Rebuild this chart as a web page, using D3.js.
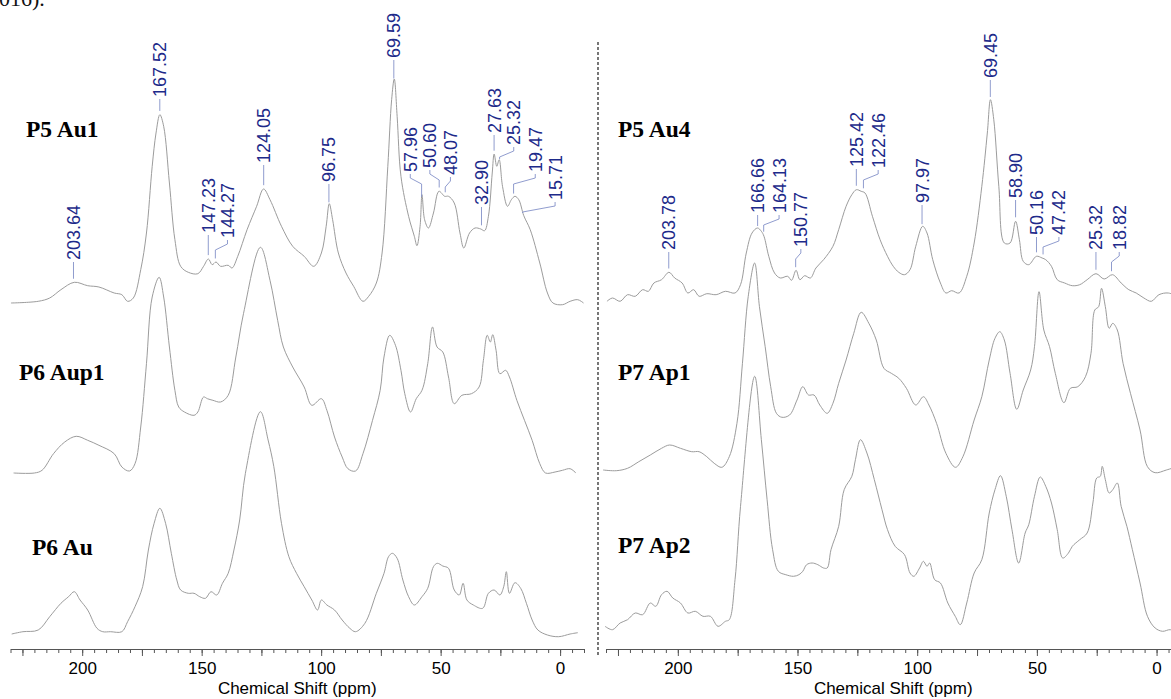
<!DOCTYPE html>
<html><head><meta charset="utf-8">
<script src="https://cdn.jsdelivr.net/npm/d3@7"></script>
<style>body{margin:0;background:#fff;} svg{display:block;}</style>
</head><body>
<svg id="chart" width="1171" height="699"></svg>
<script>
// ---------------- DATA ----------------
const axisLabelValues = [200, 150, 100, 50, 0];
const axisTitle = "Chemical Shift (ppm)";
const sampleNames = ["P5 Au1", "P6 Aup1", "P6 Au", "P5 Au4", "P7 Ap1", "P7 Ap2"];

const peaksP5Au1 = [203.64, 167.52, 147.23, 144.27, 124.05, 96.75, 69.59, 57.96, 50.60, 48.07, 32.90, 27.63, 25.32, 19.47, 15.71];
const peaksP5Au4 = [203.78, 166.66, 164.13, 150.77, 125.42, 122.46, 97.97, 69.45, 58.90, 50.16, 47.42, 25.32, 18.82];

// [ppm, intensity (a.u.)]
const spectrumP5Au1 = [[229.8,0],[218.4,1.7],[213.6,5],[208.9,13.3],[203.3,20.7],[197.7,17.3],[193.0,16],[186.6,10],[183.4,8.3],[181.0,1.7],[178.6,5],[175.5,33.3],[173.1,70],[170.7,136.7],[169.1,170],[167.5,188.3],[165.9,176.7],[163.5,120],[161.2,63.3],[158.8,36.7],[155.6,30.7],[151.6,29.3],[149.2,36.7],[147.2,44],[145.6,38.3],[144.0,41],[142.1,36.7],[138.9,37.7],[137.3,35],[134.9,46.7],[131.0,73.3],[127.0,96.7],[124.1,114],[121.4,103.3],[116.6,76.7],[111.9,56.7],[107.1,46.7],[103.1,36.7],[99.9,50],[97.9,76.7],[96.6,99.3],[95.2,83.3],[92.8,50],[89.6,30],[86.4,16.7],[82.5,1.7],[80.1,6.7],[76.9,20],[74.5,50],[72.1,136.7],[70.5,203.3],[69.4,224],[68.2,186.7],[66.6,126.7],[63.4,86.7],[61.0,66.7],[59.9,57.3],[58.6,76.7],[57.8,108.3],[56.7,83.3],[55.1,75],[53.0,90],[50.7,111.7],[48.3,106.7],[46.7,106.7],[44.3,100],[41.9,70],[40.3,55],[37.9,70],[35.6,75],[33.2,74],[31.6,72.3],[30.0,86.7],[28.4,130],[27.6,149],[26.5,136.7],[25.5,143.3],[24.1,116.7],[22.0,96.7],[20.4,103.3],[18.9,106.7],[17.3,103.3],[15.2,87.3],[12.5,73.3],[8.5,40],[5.3,10],[3.0,0],[-1.0,-1.7],[-4.2,1.7],[-7.4,3.3],[-9.8,0]];

const spectrumP6Aup1 = [[228.7,0],[220.0,0],[216.8,2.7],[212.0,19.3],[207.3,31],[202.5,36.7],[197.7,32.7],[193.0,27.7],[186.6,19.3],[183.4,6],[180.2,2],[177.9,9.3],[175.5,46],[173.1,109.3],[170.7,176],[167.8,195.7],[165.9,176],[163.5,126],[161.2,82.7],[159.6,66],[157.2,61],[153.2,57.7],[151.6,61],[149.2,76],[147.6,74.3],[145.3,72.7],[142.1,71],[138.9,77.7],[135.7,116],[132.5,159.3],[125.4,225.7],[121.4,192.7],[118.2,152.7],[115.8,126],[111.9,106],[107.1,86],[103.9,67.7],[99.9,74.3],[97.6,62.7],[94.4,36],[91.2,16],[88.8,4.3],[85.6,2],[82.5,19.3],[78.5,52.7],[75.3,82.7],[73.7,116],[71.3,137.7],[68.9,127.7],[66.6,102.7],[65.0,79.3],[62.6,61],[60.2,74.3],[57.8,82.7],[55.4,109.3],[53.4,146],[51.5,126],[49.1,121],[46.7,96],[44.3,69.3],[41.1,77.7],[37.1,79.3],[33.9,86],[32.1,112.7],[30.5,137.7],[29.2,131],[28.2,138.3],[26.8,122.7],[25.2,99.3],[22.8,102.7],[21.2,96],[18.1,72.7],[14.9,52.7],[11.7,32.7],[8.5,9.3],[6.1,0],[2.1,1],[-1.0,2.7],[-4.2,4.3],[-6.6,0]];

const spectrumP6Au = [[229.5,0],[224.8,2.3],[218.4,4],[213.6,17.3],[208.9,30.7],[205.7,37.3],[203.3,42.3],[200.9,34],[197.7,24],[193.8,5.7],[191.4,2.3],[188.2,2.3],[183.4,2.3],[181.0,12.3],[177.9,27.3],[174.7,47.3],[172.3,84],[169.9,110.7],[167.5,125.7],[165.1,110.7],[162.7,80.7],[160.4,54],[158.8,44],[155.6,40.7],[153.2,40.7],[150.8,37.3],[148.4,35.7],[146.1,42.3],[143.7,39],[141.3,50.7],[138.9,60.7],[136.5,84],[134.1,114],[131.7,160.7],[125.4,222.3],[122.2,194],[119.8,167.3],[116.6,110.7],[113.5,77.3],[110.3,60.7],[107.1,47.3],[103.9,34],[101.5,24],[99.9,34],[97.6,29],[94.4,24],[91.2,14],[88.0,5.7],[85.6,2.3],[81.7,10.7],[76.9,40.7],[73.7,60.7],[71.8,77.3],[70.2,80.7],[68.2,75.7],[65.8,54],[63.4,37.3],[61.0,29],[57.8,37.3],[55.4,45.7],[53.0,67.3],[51.4,70.7],[49.1,68],[46.7,65.7],[44.3,44],[42.2,39],[40.6,50.7],[39.0,34],[36.3,29],[32.4,25.7],[30.0,40.7],[27.6,44],[25.2,39],[23.6,47.3],[22.5,62.3],[21.2,40.7],[18.9,51.3],[16.5,45.7],[14.1,30.7],[11.7,14],[9.3,4],[5.3,-1],[0.6,-2.7],[-4.2,0],[-7.4,1.3]];

const spectrumP5Au4 = [[229.6,-4.3],[227.3,-1],[224.1,-4.3],[221.0,2.3],[217.8,0.7],[214.7,7.3],[212.3,5.7],[210.0,14],[206.8,17.3],[203.7,24.7],[201.3,19],[198.2,14],[195.8,4],[193.4,7.3],[191.1,0.7],[187.9,3.3],[184.0,2.3],[180.1,5.7],[176.1,4],[173.8,12.3],[171.4,44],[169.0,64],[166.7,69],[165.1,65.7],[164.0,60.7],[162.0,40.7],[159.6,24],[157.2,19],[154.1,20.7],[152.5,16.7],[150.6,26.7],[149.0,17.3],[147.0,21.3],[144.6,19],[142.3,29],[139.1,37.3],[135.2,50.7],[132.8,67.3],[129.7,90.7],[127.3,102.3],[125.4,107.3],[123.4,105.7],[121.8,104],[118.7,80.7],[115.5,57.3],[112.4,40.7],[110.0,30.7],[107.7,24.7],[105.3,22.3],[103.0,27.3],[100.6,50.7],[97.7,70.7],[95.9,64],[93.5,37.3],[90.3,14],[88.0,4],[85.6,6.3],[82.5,4],[79.3,20.7],[76.2,54],[73.0,110.7],[70.7,164],[69.4,197.3],[68.0,177.3],[65.9,110.7],[63.6,54],[61.2,54],[58.9,75.7],[57.3,57.3],[55.7,35.7],[53.4,32.3],[50.2,40.7],[47.8,39],[46.3,37.3],[43.9,30.7],[41.5,17.3],[38.4,14],[35.2,11.3],[32.1,12.3],[29.0,17.3],[25.3,23.3],[21.9,18],[18.4,22.3],[14.8,14],[11.6,7.3],[8.5,4],[5.3,-1],[2.2,-4.3],[-1.0,2.3],[-4.9,4],[-8.5,0.7]];

const spectrumP7Ap1 = [[231.2,0],[225.7,-0.7],[221.0,1.7],[216.3,8.3],[211.5,15],[206.8,21.7],[203.4,25],[198.9,21.7],[194.2,18.3],[191.1,18.3],[187.9,13.3],[184.8,6.7],[181.6,2.7],[178.5,13.3],[175.3,46.7],[173.0,106.7],[170.6,173.3],[167.9,207],[165.9,163.3],[163.5,123.3],[161.2,83.3],[158.8,56.7],[156.5,52.7],[153.3,55],[150.2,70],[147.8,83.3],[145.4,75],[143.1,75],[140.7,65],[137.6,56.7],[135.2,66.7],[132.8,86.7],[129.7,110],[126.5,136.7],[123.4,157.7],[120.2,146.7],[117.1,130],[113.9,101.7],[110.8,96.7],[107.7,91.7],[104.5,81.7],[100.6,65],[97.4,73.3],[95.1,65],[91.9,46.7],[88.0,16.7],[84.0,2.7],[80.9,13.3],[76.2,50],[73.0,73.3],[69.9,110],[67.5,131.7],[65.5,138.3],[63.6,130],[61.2,96.7],[58.4,60.7],[55.7,80],[52.6,100],[51.0,123.3],[49.1,178.3],[47.1,140],[44.7,123.3],[42.3,96.7],[38.7,67.3],[36.0,81.7],[32.9,83.3],[29.7,93.3],[27.4,116.7],[25.8,160],[24.2,163.3],[23.0,181.7],[21.4,163.3],[19.8,141.7],[18.3,146.7],[16.4,140],[14.0,106.7],[10.9,76.7],[6.9,40],[3.8,3.3],[0.6,-2.7],[-4.1,0],[-8.5,3.3]];

const spectrumP7Ap2 = [[230.4,1.7],[227.3,-1.7],[224.1,5],[221.0,8.3],[217.8,15],[214.7,13.3],[211.5,25],[209.2,21.7],[206.8,33.3],[204.5,36.7],[202.1,30],[198.9,25],[195.8,15],[192.7,16.7],[189.5,11.7],[186.4,11.7],[183.2,1.7],[180.1,6.7],[178.5,8.3],[176.1,48.3],[173.8,121.7],[167.9,251.7],[165.1,188.3],[162.7,128.3],[160.4,78.3],[158.0,56.7],[154.9,53.3],[151.7,51.7],[149.4,53.3],[147.8,56.7],[146.2,63.3],[143.9,65],[141.5,63.3],[139.1,60],[137.6,60],[136.0,78.3],[132.8,101.7],[130.5,138.3],[127.3,151.7],[125.8,168.3],[123.7,188.3],[121.0,175],[117.9,148.3],[114.7,118.3],[112.4,98.3],[109.2,81.7],[105.3,73.3],[103.0,55],[101.4,51.7],[99.0,60],[97.4,66.7],[95.9,61.7],[94.8,65],[92.7,48.3],[90.3,45],[87.2,25],[84.1,11.7],[82.0,3.3],[79.3,25],[76.2,55],[73.0,68.3],[69.9,115],[67.5,138.3],[65.2,152.3],[62.8,131.7],[60.4,98.3],[57.6,65],[54.9,95],[53.4,103.3],[51.0,131.7],[48.6,151],[46.3,141.7],[43.9,125],[41.5,98.3],[39.2,70],[36.8,75],[35.2,81.7],[32.1,88.3],[29.0,95],[26.6,125],[25.0,150],[23.5,151.7],[22.7,161.7],[21.4,148.3],[19.8,135],[18.3,138.3],[16.4,145],[14.8,121.7],[12.4,101.7],[10.1,78.3],[6.9,45],[3.8,11.7],[0.6,0],[-2.5,-3.3],[-5.7,-1.7],[-8.5,-5]];

// ---------------- LAYOUT ----------------
// label text position in ppm, and bottom (px) of each rotated peak label
const labelPpmP5Au1 = [203.64, 167.52, 147.23, 139.2, 124.05, 96.75, 69.59, 62.7, 54.5, 45.9, 32.9, 27.63, 19.4, 10.4, 2.1];
const labelBottomP5Au1 = [260, 97, 233, 238, 163, 182, 58, 172, 168, 175, 205, 133, 145, 172, 200];
const labelPpmP5Au4 = [203.78, 166.66, 157.7, 148.6, 125.42, 116.3, 97.97, 69.45, 58.90, 50.16, 40.8, 25.32, 15.6];
const labelBottomP5Au4 = [250, 213, 213, 247, 167, 168, 203, 78, 198, 235, 235, 250, 250];

const svg = d3.select("#chart");
const axisY = 649;

const panels = [
  { range: [10.5, 584], rows: [
      { name: sampleNames[0], data: spectrumP5Au1, base: 303, nx: 26, ny: 137, peaks: peaksP5Au1, lp: labelPpmP5Au1, lb: labelBottomP5Au1 },
      { name: sampleNames[1], data: spectrumP6Aup1, base: 473, nx: 19, ny: 380 },
      { name: sampleNames[2], data: spectrumP6Au, base: 634, nx: 32, ny: 555 } ] },
  { range: [606, 1180.5], rows: [
      { name: sampleNames[3], data: spectrumP5Au4, base: 297, nx: 618, ny: 137, peaks: peaksP5Au4, lp: labelPpmP5Au4, lb: labelBottomP5Au4 },
      { name: sampleNames[4], data: spectrumP7Ap1, base: 470, nx: 618, ny: 380 },
      { name: sampleNames[5], data: spectrumP7Ap2, base: 628, nx: 618, ny: 553 } ] }
];

function interp(data, p) {
  for (let i = 0; i < data.length - 1; i++) {
    const a = data[i], b = data[i + 1];
    if (p <= a[0] && p >= b[0]) {
      const t = (a[0] - p) / (a[0] - b[0]);
      return a[1] + t * (b[1] - a[1]);
    }
  }
  return 0;
}

// caption fragment cut at top
svg.append("text").attr("x", -1).attr("y", 6)
  .attr("font-family", "Liberation Serif, Times New Roman, serif").attr("font-size", 22)
  .attr("fill", "#111").text("016).");

panels.forEach(panel => {
  const x = d3.scaleLinear().domain([230, -10]).range(panel.range);

  panel.rows.forEach(row => {
    const y = d3.scaleLinear().domain([0, 250]).range([row.base, row.base - 250]);
    const line = d3.line().x(d => x(d[0])).y(d => y(d[1])).curve(d3.curveCatmullRom.alpha(0.5));
    svg.append("path").datum(row.data).attr("d", line)
      .attr("fill", "none").attr("stroke", "#9c9c9c").attr("stroke-width", 1);

    svg.append("text").attr("x", row.nx).attr("y", row.ny)
      .attr("font-family", "Liberation Serif, Times New Roman, serif")
      .attr("font-weight", "bold").attr("font-size", 23.5).attr("fill", "#000")
      .text(row.name);

    if (row.peaks) {
      const g = svg.append("g");
      row.peaks.forEach((pk, i) => {
        const tx = x(row.lp[i]);
        const px = x(pk);
        const b = row.lb[i];
        const end = y(interp(row.data, pk)) - 4;
        const path = d3.path();
        path.moveTo(tx, b + 2);
        if (Math.abs(tx - px) > 1.5) {
          path.lineTo(tx, b + 6);
          path.lineTo(px, b + 12);
        }
        path.lineTo(px, Math.max(end, b + 13));
        g.append("path").attr("d", path.toString()).attr("fill", "none")
          .attr("stroke", "#8391c8").attr("stroke-width", 0.9);
        g.append("text")
          .attr("transform", `translate(${tx},${b}) rotate(-90)`)
          .attr("dy", "0.36em")
          .attr("font-family", "Liberation Sans, Arial, sans-serif")
          .attr("font-size", 18).attr("fill", "#1d2a8a")
          .text(pk.toFixed(2));
      });
    }
  });

  // axis
  const g = svg.append("g").attr("transform", `translate(0,${axisY})`);
  const minor = d3.range(230, -10.1, -5);
  const major = d3.range(225, -10.1, -25);
  g.append("g").call(d3.axisBottom(x).tickValues(minor).tickSize(4).tickSizeOuter(0).tickFormat(""));
  g.append("g").call(d3.axisBottom(x).tickValues(major).tickSize(7).tickSizeOuter(0).tickPadding(6)
      .tickFormat(d => axisLabelValues.includes(d) ? d : ""));
  g.selectAll("path.domain, line").attr("stroke", "#555").attr("stroke-width", 1);
  g.selectAll("text").attr("font-family", "Liberation Sans, Arial, sans-serif")
    .attr("font-size", 17).attr("fill", "#000");
  svg.append("text").attr("x", x(110)).attr("y", 694).attr("text-anchor", "middle")
    .attr("font-family", "Liberation Sans, Arial, sans-serif").attr("font-size", 17)
    .attr("fill", "#000").text(axisTitle);
});

// dashed divider
svg.append("line").attr("x1", 598).attr("x2", 598).attr("y1", 42).attr("y2", 657)
  .attr("stroke", "#555").attr("stroke-width", 1.6).attr("stroke-dasharray", "3,2");
</script>
</body></html>
